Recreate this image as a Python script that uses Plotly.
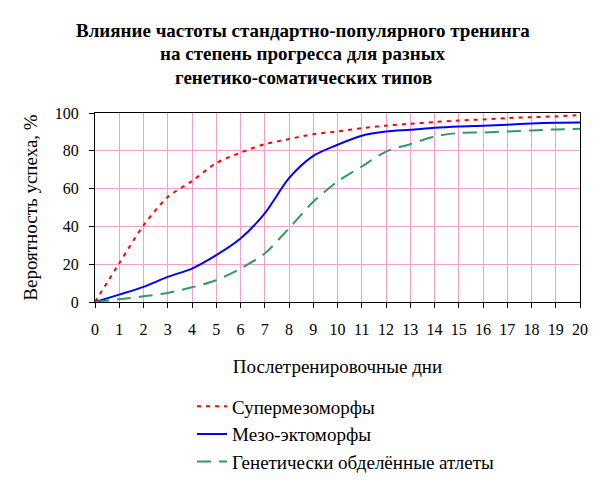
import plotly.graph_objects as go

days = list(range(0, 21))
x_ticks = list(range(0, 21))
y_ticks = [0, 20, 40, 60, 80, 100]

super_meso = [0, 20.5, 40.5, 55.5, 64, 73.5, 79, 83.5, 86.2, 88.8, 90.2, 92, 93.3, 94.3, 95.2, 96, 96.6, 97.3, 97.8, 98.2, 98.9]
meso_ecto = [0, 3.9, 8, 13.3, 17.7, 24.8, 33.6, 46.9, 65.5, 77.3, 83.2, 88, 90.2, 91.1, 92.2, 92.9, 93.3, 93.8, 94.5, 94.9, 95]
deprived = [0, 1.4, 3, 4.8, 7.8, 11.5, 17.7, 25.7, 39, 53, 63.7, 71.7, 79.6, 83.5, 87.6, 89.4, 89.7, 90.2, 90.8, 91.3, 91.7]

names = ["Супермезоморфы", "Мезо-эктоморфы", "Генетически обделённые атлеты"]
title_lines = ["Влияние частоты стандартно-популярного тренинга",
               "на степень прогресса для разных",
               "генетико-соматических типов"]
x_title = "Послетренировочные дни"
y_title = "Вероятность успеха, %"

FONT = "Liberation Serif"
TEXT_SIZE = 19
TICK_SIZE = 16

fig = go.Figure()
styles = [("#ff0000", "4px,5px"), ("#0000ff", "solid"), ("#339966", "14px,8px")]
for i, (series, name) in enumerate(zip([super_meso, meso_ecto, deprived], names)):
    col, dash = styles[i]
    fig.add_trace(go.Scatter(x=days, y=series, mode="lines", name=name,
                             legendgroup=f"g{i}",
                             line=dict(color=col, width=2, dash=dash, shape="spline", smoothing=0.8)))

for i, t in enumerate(title_lines):
    fig.add_annotation(text=f"<b>{t}</b>", xref="paper", yref="paper",
                       x=0.429, y=1.0, yshift=[83, 60, 36][i],
                       xanchor="center", yanchor="middle", showarrow=False,
                       font=dict(family=FONT, size=TEXT_SIZE, color="black"))

fig.update_layout(
    width=608, height=482,
    margin=dict(l=87, r=36, t=105, b=188),
    paper_bgcolor="white", plot_bgcolor="white",
    font=dict(family=FONT, size=TICK_SIZE, color="black"),
    showlegend=True,
    legend=dict(x=0.2, xref="paper", y=0.213, yref="container", xanchor="left", yanchor="top",
                bgcolor="rgba(0,0,0,0)", tracegroupgap=0,
                font=dict(family=FONT, size=TEXT_SIZE, color="black")),
    xaxis=dict(range=[0, 20], tickvals=x_ticks, ticktext=[str(v) for v in x_ticks],
               showgrid=True, gridcolor="#f59fcb", gridwidth=1,
               showline=True, linecolor="black", linewidth=1, mirror=True,
               ticks="outside", ticklen=5, tickcolor="black", zeroline=False,
               ticklabelstandoff=8, automargin=False,
               tickfont=dict(family=FONT, size=TICK_SIZE),
               title=dict(text=x_title, standoff=22, font=dict(family=FONT, size=TEXT_SIZE))),
    yaxis=dict(range=[0, 100], tickvals=y_ticks,
               showgrid=True, gridcolor="#f59fcb", gridwidth=1,
               showline=True, linecolor="black", linewidth=1, mirror=True,
               ticks="outside", ticklen=5, tickcolor="black", zeroline=False,
               ticklabelstandoff=7, automargin=False,
               tickfont=dict(family=FONT, size=TICK_SIZE),
               title=dict(text=y_title, standoff=12, font=dict(family=FONT, size=TEXT_SIZE))),
)

fig.write_html("out.html")
